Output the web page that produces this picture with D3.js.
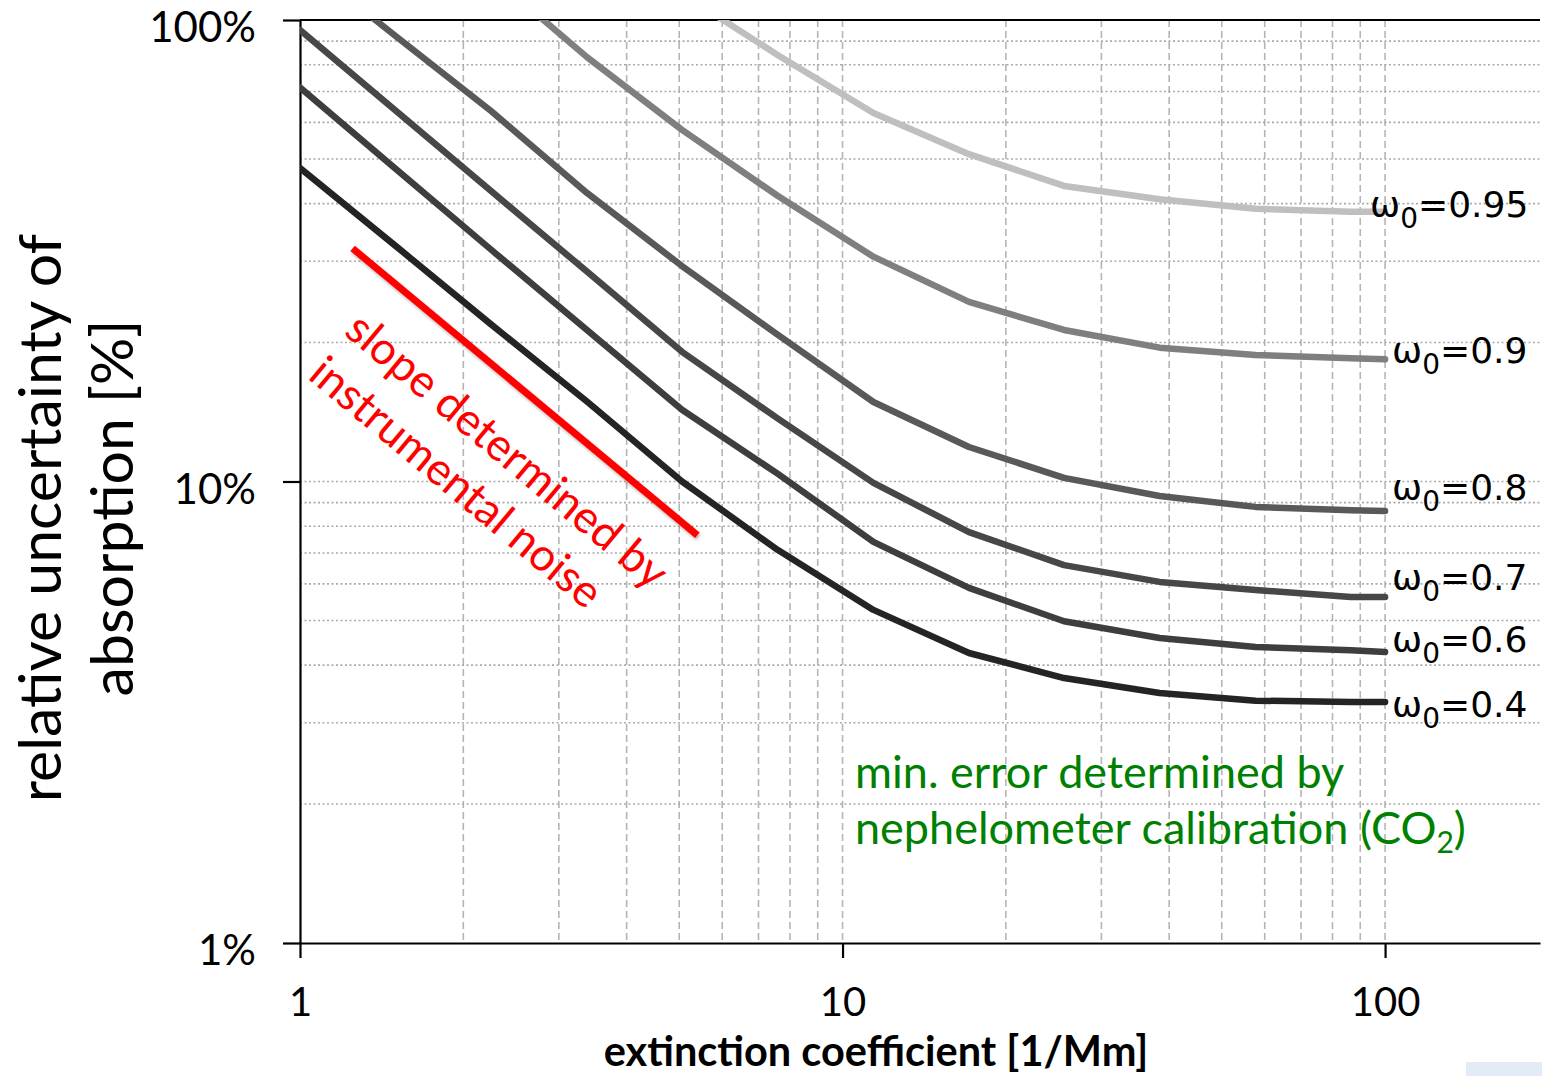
<!DOCTYPE html>
<html>
<head>
<meta charset="utf-8">
<script src="https://cdn.jsdelivr.net/npm/d3@7"></script>
<style>
  html, body { margin: 0; padding: 0; background: #fff; }
  svg { display: block; }
</style>
</head>
<body>
<div id="chart"></div>
<script>
// extinction coefficient [1/Mm] at which the curves were computed
const extinction = [1, 1.5, 2.25, 3.38, 5.06, 7.59, 11.4, 17.1, 25.6, 38.4, 57.7, 86.5, 100];
// single scattering albedo of each curve
const albedo = ['0.95', '0.9', '0.8', '0.7', '0.6', '0.4'];
// relative uncertainty of absorption [%], one list per albedo
const unc095 = [450, 320, 228, 162, 114, 84.0, 62.9, 51.2, 43.7, 40.9, 39.0, 38.4, 38.4];
const unc090 = [248, 172, 125, 83.1, 57.8, 41.6, 30.7, 24.5, 21.3, 19.5, 18.8, 18.5, 18.4];
const unc080 = [135, 92.3, 63.5, 42.2, 29.3, 20.8, 14.87, 11.88, 10.18, 9.30, 8.81, 8.66, 8.63];
const unc070 = [95.1, 63.7, 42.6, 28.5, 19.1, 13.7, 9.93, 7.77, 6.59, 6.06, 5.82, 5.62, 5.62];
const unc060 = [71.4, 47.6, 31.8, 21.3, 14.3, 10.4, 7.40, 5.88, 4.98, 4.58, 4.38, 4.31, 4.27];
const unc040 = [47.8, 32.4, 21.9, 14.9, 10.0, 7.11, 5.27, 4.25, 3.75, 3.48, 3.35, 3.33, 3.33];
// annotation guides, [extinction, uncertainty]
const noiseSlope = [[1.25, 32], [5.4, 7.65]];
const calibFloor = [[8.5, 3.1], [97, 3.1]];
const xTickValues = [1, 10, 100];
const yTickValues = [1, 10, 100];

const seriesData = [unc095, unc090, unc080, unc070, unc060, unc040];
const colours = ['#bfbfbf', '#7f7f7f', '#595959', '#474747', '#3e3e3e', '#242424'];
const labelShift = [5, 4, -11, -7, 0, 15]; // label baseline vs. end of curve
const labelX = [1370, 1392, 1392, 1392, 1392, 1392];

const width = 1542;
const height = 1076;
const plot = { left: 300, right: 1540, top: 20, bottom: 943 };

const x = d3.scaleLog().domain([1, 193]).range([plot.left, plot.right]);
const y = d3.scaleLog().domain([1, 100]).range([plot.bottom, plot.top]);

const svg = d3.select('#chart').append('svg')
  .attr('width', width)
  .attr('height', height);

const defs = svg.append('defs');
defs.append('clipPath').attr('id', 'plotclip')
  .append('rect')
  .attr('x', plot.left).attr('y', plot.top)
  .attr('width', plot.right - plot.left + 10)
  .attr('height', plot.bottom - plot.top);
const shadow = defs.append('filter').attr('id', 'shadow')
  .attr('x', '-5%').attr('y', '-50%').attr('width', '110%').attr('height', '200%');
shadow.append('feDropShadow')
  .attr('dx', 1).attr('dy', 2).attr('stdDeviation', 1.5)
  .attr('flood-color', '#000').attr('flood-opacity', 0.3);

// grid
const minorX = [];
const minorY = [];
[1, 10].forEach(d => { for (let k = 2; k <= 10; k++) minorX.push(d * k); });
[1, 10].forEach(d => { for (let k = 2; k <= 9; k++) minorY.push(d * k); });
minorY.push(10);

svg.append('g').selectAll('line').data(minorX).join('line')
  .attr('x1', d => x(d)).attr('x2', d => x(d))
  .attr('y1', plot.top).attr('y2', plot.bottom)
  .attr('stroke', '#b5b5b5').attr('stroke-width', 1.6)
  .attr('stroke-dasharray', '7,4');

svg.append('g').selectAll('line').data(minorY).join('line')
  .attr('x1', plot.left).attr('x2', plot.right)
  .attr('y1', d => y(d)).attr('y2', d => y(d))
  .attr('stroke', '#aaaaaa').attr('stroke-width', 1.6)
  .attr('stroke-dasharray', '2,2.5');

// axes
const yAxis = d3.axisLeft(y)
  .tickValues(yTickValues)
  .tickSize(17)
  .tickSizeOuter(0)
  .tickPadding(27)
  .tickFormat(d => d + '%');
const xAxis = d3.axisBottom(x)
  .tickValues(xTickValues)
  .tickSize(15)
  .tickSizeOuter(0)
  .tickPadding(30)
  .tickFormat(d3.format('d'));

const gy = svg.append('g').attr('transform', `translate(${plot.left},0)`).call(yAxis);
const gx = svg.append('g').attr('transform', `translate(0,${plot.bottom})`).call(xAxis);
[gx, gy].forEach(g => {
  g.select('.domain').attr('stroke', '#000').attr('stroke-width', 2.2);
  g.selectAll('.tick line').attr('stroke', '#000').attr('stroke-width', 2.2);
  g.selectAll('.tick text')
    .attr('fill', '#000')
    .style('font-family', 'Lato, sans-serif')
    .style('font-size', '42px');
});
gx.selectAll('.tick text').style('font-size', '40px');
gy.selectAll('.tick text').attr('dy', '0.52em');

svg.append('line')
  .attr('x1', plot.left).attr('x2', plot.right)
  .attr('y1', y(100)).attr('y2', y(100))
  .attr('stroke', '#000').attr('stroke-width', 2.2);

// curves
const line = d3.line()
  .x((d, i) => x(extinction[i]))
  .y(d => y(d));

const curves = svg.append('g').attr('clip-path', 'url(#plotclip)');
curves.selectAll('path').data(seriesData).join('path')
  .attr('d', line)
  .attr('fill', 'none')
  .attr('stroke', (d, i) => colours[i])
  .attr('stroke-width', 6.5)
  .attr('stroke-linejoin', 'round')
  .attr('stroke-linecap', 'round');

// albedo labels
const labels = svg.append('g')
  .style('font-family', '"DejaVu Sans", sans-serif')
  .style('font-size', '36px')
  .attr('fill', '#000');
albedo.forEach((a, i) => {
  const last = seriesData[i][seriesData[i].length - 1];
  const t = labels.append('text')
    .attr('x', labelX[i])
    .attr('y', y(last) + labelShift[i]);
  t.append('tspan').text('\u03c9');
  t.append('tspan').attr('dy', 11).style('font-size', '28px').text('0');
  t.append('tspan').attr('dy', -11).text('=' + a);
});

// red guide: slope set by instrumental noise
const guide = d3.line().x(d => x(d[0])).y(d => y(d[1]));
svg.append('path')
  .attr('d', guide(noiseSlope))
  .attr('stroke', '#ff0000').attr('stroke-width', 7)
  .attr('fill', 'none')
  .attr('filter', 'url(#shadow)');

const p0 = [x(noiseSlope[0][0]), y(noiseSlope[0][1])];
const p1 = [x(noiseSlope[1][0]), y(noiseSlope[1][1])];
const angle = Math.atan2(p1[1] - p0[1], p1[0] - p0[0]) * 180 / Math.PI;
const mid = [(p0[0] + p1[0]) / 2, (p0[1] + p1[1]) / 2];
const noiseText = svg.append('g')
  .attr('transform', `translate(${mid[0]},${mid[1]}) rotate(${angle})`)
  .style('font-family', 'Lato, sans-serif')
  .style('font-size', '45px')
  .attr('fill', '#ff0000')
  .attr('text-anchor', 'middle');
noiseText.append('text').attr('x', 24).attr('y', 72).text('slope determined by');
noiseText.append('text').attr('x', 5).attr('y', 129).text('instrumental noise');

// green guide: calibration floor
svg.append('path')
  .attr('d', guide(calibFloor))
  .attr('stroke', '#008000').attr('stroke-width', 6)
  .attr('fill', 'none')
  .attr('filter', 'url(#shadow)');

const calibText = svg.append('g')
  .style('font-family', 'Lato, sans-serif')
  .style('font-size', '45px')
  .attr('fill', '#008000');
calibText.append('text').attr('x', 855).attr('y', 788).text('min. error determined by');
const c2 = calibText.append('text').attr('x', 855).attr('y', 844);
c2.append('tspan').text('nephelometer calibration (CO');
c2.append('tspan').attr('dy', 9).style('font-size', '30px').text('2');
c2.append('tspan').attr('dy', -9).text(')');

// axis titles
svg.append('text')
  .attr('x', 876)
  .attr('y', 1066)
  .attr('text-anchor', 'middle')
  .style('font-family', 'Lato, sans-serif')
  .style('font-weight', 'bold')
  .style('font-size', '41.5px')
  .text('extinction coefficient [1/Mm]');

const yTitle = svg.append('g')
  .style('font-family', 'Lato, sans-serif')
  .style('font-size', '59px')
  .attr('text-anchor', 'middle');
yTitle.append('text')
  .attr('transform', 'translate(61,518) rotate(-90)')
  .text('relative uncertainty of');
yTitle.append('text')
  .attr('transform', 'translate(133,508) rotate(-90)')
  .text('absorption [%]');

// faint smudge in the bottom-right corner of the original
svg.append('rect')
  .attr('x', 1466).attr('y', 1062).attr('width', 76).attr('height', 14)
  .attr('fill', '#d7e4f2').attr('opacity', 0.7);
</script>
</body>
</html>
